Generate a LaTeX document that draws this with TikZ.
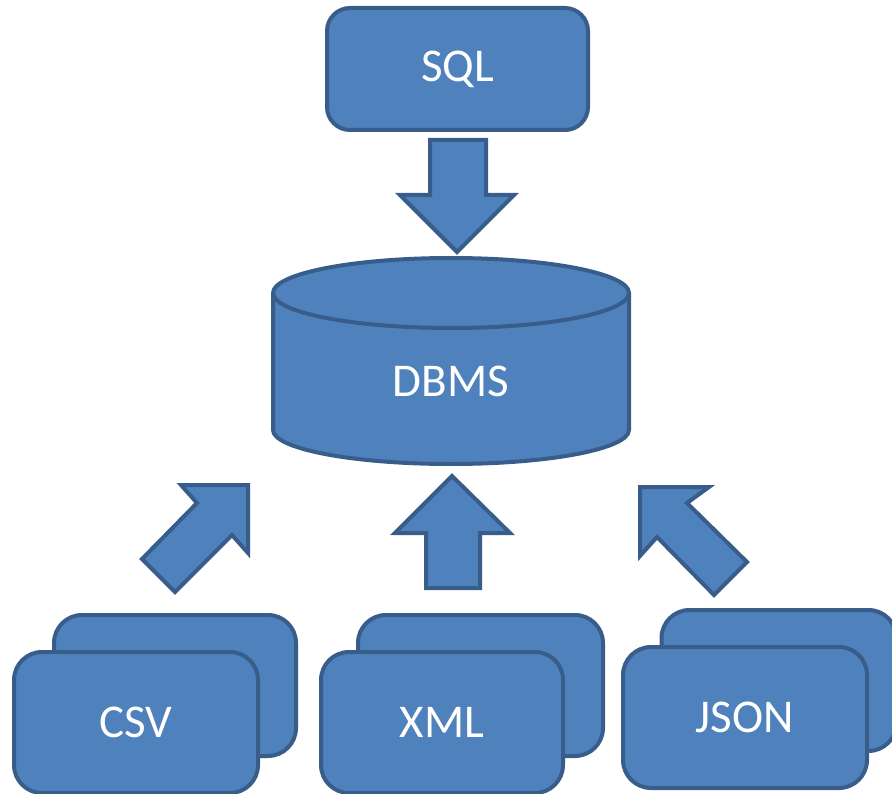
\documentclass[tikz,border=0pt]{standalone}
\usepackage{fontspec}
\setmainfont{Carlito}
\definecolor{boxfill}{HTML}{4F81BD}
\definecolor{boxline}{HTML}{385D8A}
\tikzset{
  blueshape/.style={fill=boxfill, draw=boxline, line width=4pt},
  bluebox/.style={blueshape, rounded corners=#1, inner sep=0pt,
    text=white, font=\fontsize{47}{56}\selectfont},
  bluebox/.default=28pt,
  blockarrow/.style={blueshape, line join=miter}
}
\begin{document}
\begin{tikzpicture}[x=1pt,y=-1pt]
\useasboundingbox (0,0) rectangle (892,794);

% SQL box
\node[bluebox=23pt, minimum width=261pt, minimum height=122pt] (sql) at (457.5,69) {SQL};

% down arrow SQL -> DBMS
\draw[blockarrow] (430,140) -- (486,140) -- (486,195) -- (514,195) -- (457,252)
  -- (400,195) -- (430,195) -- cycle;

% DBMS cylinder
\draw[blueshape] (273,293) -- (273,430)
  arc[start angle=180, end angle=360, x radius=178pt, y radius=34pt]
  -- (629,293)
  arc[start angle=0, end angle=180, x radius=178pt, y radius=35pt] -- cycle;
\draw[boxline, line width=4pt] (273,293)
  arc[start angle=180, end angle=360, x radius=178pt, y radius=35pt];
\node[text=white, font=\fontsize{47}{56}\selectfont] (dbms) at (451,381) {DBMS};

% arrows from sources
\draw[blockarrow] (142,559) -- (197,503) -- (181,485) -- (248,485) -- (248,553)
  -- (232,535) -- (175,592) -- cycle;
\draw[blockarrow] (426,588) -- (480,588) -- (480,533) -- (510,533) -- (452,476)
  -- (395,533) -- (426,533) -- cycle;
\draw[blockarrow] (747,562) -- (687,503) -- (709,487) -- (640,487) -- (640,556)
  -- (657,537) -- (714,595) -- cycle;

% CSV
\node[bluebox, minimum width=242pt, minimum height=141pt] (csvback) at (175,685.5) {};
\node[bluebox, minimum width=244pt, minimum height=141pt] (csv) at (136,722.5) {CSV};
% XML
\node[bluebox, minimum width=245pt, minimum height=141pt] (xmlback) at (480.5,685.5) {};
\node[bluebox, minimum width=242pt, minimum height=141pt] (xml) at (442,722.5) {XML};
% JSON
\node[bluebox, minimum width=235pt, minimum height=141pt] (jsonback) at (779,680.5) {};
\node[bluebox, minimum width=244pt, minimum height=141pt] (json) at (745,717.5) {JSON};
\end{tikzpicture}
\end{document}
